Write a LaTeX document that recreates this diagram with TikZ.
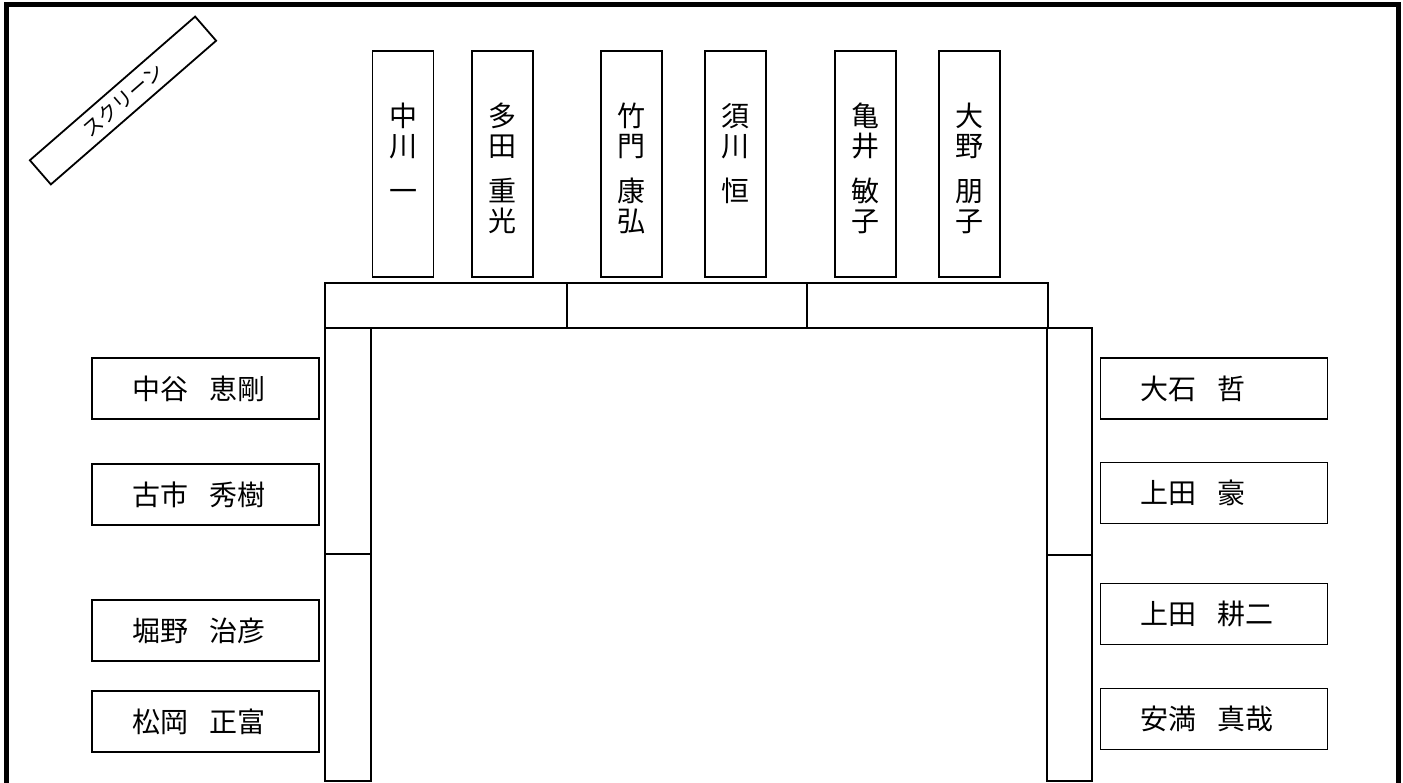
\documentclass[tikz,border=0pt]{standalone}
\usepackage{fontspec}
\setmainfont{Noto Sans CJK JP}
\newcommand{\tatename}[2]{\parbox[c][218pt][t]{34pt}{\centering\fontsize{28}{30}\selectfont\vspace*{48pt}#1\\[15pt]#2}}

\begin{document}
\begin{tikzpicture}[x=1pt, y=-1pt]
\tikzset{
    tate/.style= {draw, line width=1.8pt, inner sep=0pt, minimum width=61pt, minimum height=226pt},
    yoko/.style= {draw, line width=1.8pt, inner ysep=0pt, inner xsep=40pt, text width=147pt, minimum height=61pt, align=left, font=\fontsize{28}{30}\selectfont},
    screen/.style= {draw, line width=1.8pt, rotate=41, inner sep=0pt, minimum width=219pt, minimum height=32pt, font=\fontsize{20}{22}\selectfont},
    desk/.style= {draw, line width=1.8pt},
}
\useasboundingbox (0,0) rectangle (1403,783);

\draw[line width=5pt] (6,800) -- (6,4.5) -- (1398.5,4.5) -- (1398.5,800);

\node[screen] (scr) at (123,100.5) {スクリーン};

\node[tate] (nakagawa) at (403,164) {\tatename{中\\川}{一}};
\node[tate] (tada) at (502.5,164) {\tatename{多\\田}{重\\光}};
\node[tate] (takekado) at (631.5,164) {\tatename{竹\\門}{康\\弘}};
\node[tate] (sugawa) at (735.5,164) {\tatename{須\\川}{恒}};
\node[tate] (kamei) at (865.5,164) {\tatename{亀\\井}{敏\\子}};
\node[tate] (oono) at (969.5,164) {\tatename{大\\野}{朋\\子}};

\draw[desk] (325,283) rectangle (1048,328);
\draw[desk] (567,283) -- (567,328);
\draw[desk] (807,283) -- (807,328);
\draw[desk] (325,328) rectangle (371,781);
\draw[desk] (325,554) -- (371,554);
\draw[desk] (1047,328) rectangle (1092,781);
\draw[desk] (1047,555) -- (1092,555);

\node[yoko] (nakatani) at (205.5,388.5) {中谷\hspace{0.75em}恵剛};
\node[yoko] (furuichi) at (205.5,494.5) {古市\hspace{0.75em}秀樹};
\node[yoko] (horino) at (205.5,630.5) {堀野\hspace{0.75em}治彦};
\node[yoko] (matsuoka) at (205.5,721.5) {松岡\hspace{0.75em}正富};

\node[yoko] (ooishi) at (1214,388.5) {大石\hspace{0.75em}哲};
\node[yoko] (uedag) at (1214,493) {上田\hspace{0.75em}豪};
\node[yoko] (uedak) at (1214,614) {上田\hspace{0.75em}耕二};
\node[yoko] (yasumitsu) at (1214,719) {安満\hspace{0.75em}真哉};
\end{tikzpicture}
\end{document}
